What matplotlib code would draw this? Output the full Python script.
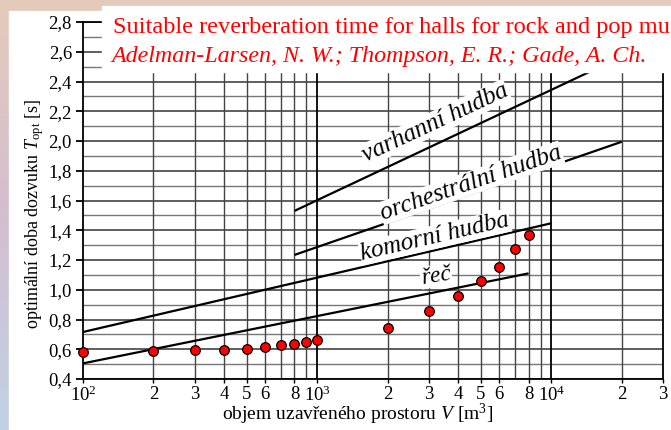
import numpy as np
import matplotlib
matplotlib.use("Agg")
import matplotlib.pyplot as plt
from matplotlib.patches import Rectangle
from matplotlib.ticker import FixedLocator, FixedFormatter, NullFormatter

plt.rcParams['font.family'] = ['Liberation Serif', 'DejaVu Serif']
plt.rcParams['mathtext.fontset'] = 'custom'
plt.rcParams['mathtext.rm'] = 'Liberation Serif'
plt.rcParams['mathtext.it'] = 'Liberation Serif:italic'

# ---- data ----
volumes = [100, 200, 300, 400, 500, 600, 700, 800, 900, 1000,
           2000, 3000, 4000, 5000, 6000, 7000, 8000]
t_measured = [0.58, 0.585, 0.592, 0.595, 0.602, 0.615, 0.629, 0.635, 0.647, 0.66,
              0.745, 0.857, 0.956, 1.059, 1.151, 1.272, 1.368]

line_names = ["varhanní hudba", "orchestrální hudba", "komorní hudba", "řeč"]
line_v_start = [800, 800, 100, 100]
line_v_end = [20000, 20000, 10000, 8000]
line_t_start = [1.53, 1.234, 0.716, 0.505]
line_t_end = [2.567, 1.995, 1.447, 1.11]

x_tick_values = [100, 200, 300, 400, 500, 600, 800, 1000,
                 2000, 3000, 4000, 5000, 6000, 8000, 10000, 20000, 30000]
x_tick_labels = [r"$10^2$", "2", "3", "4", "5", "6", "8", r"$10^3$",
                 "2", "3", "4", "5", "6", "8", r"$10^4$", "2", "3"]
y_tick_values = [0.4, 0.6, 0.8, 1.0, 1.2, 1.4, 1.6, 1.8, 2.0, 2.2, 2.4, 2.6, 2.8]
y_tick_labels = ["0,4", "0,6", "0,8", "1,0", "1,2", "1,4", "1,6", "1,8",
                 "2,0", "2,2", "2,4", "2,6", "2,8"]

title1 = "Suitable reverberation time for halls for rock and pop music"
title2 = "Adelman-Larsen, N. W.; Thompson, E. R.; Gade, A. Ch."

W, H = 671, 430
fig = plt.figure(figsize=(W / 100, H / 100), dpi=100)

# background gradient frame
bg = fig.add_axes([0, 0, 1, 1], zorder=-10)
top = np.array([228, 203, 186]) / 255
mid = np.array([212, 190, 208]) / 255
bot = np.array([192, 210, 228]) / 255
n = 200
grad = np.zeros((n, 2, 3))
for i in range(n):
    f = i / (n - 1)
    if f < 0.5:
        c = top * (1 - 2 * f) + mid * (2 * f)
    else:
        c = mid * (2 - 2 * f) + bot * (2 * f - 1)
    grad[i, :, :] = c
bg.imshow(grad, aspect='auto', extent=[0, 1, 0, 1], origin='upper')
bg.add_patch(Rectangle((9 / W, 0), 1, 1 - 11 / H, color='white', zorder=2))
bg.set_xlim(0, 1)
bg.set_ylim(0, 1)
bg.axis('off')

ax = fig.add_axes([83 / W, 1 - 379 / H, (663 - 83) / W, (379 - 22) / H])
ax.set_xscale('log')
ax.set_xlim(100, 30000)
ax.set_ylim(0.4, 2.8)

# grid
minor_y = np.round(np.arange(0.5, 2.8, 0.2), 2)
for yv in minor_y:
    ax.axhline(yv, color='#777777', lw=1.0, zorder=1)
for yv in y_tick_values:
    ax.axhline(yv, color='#333333', lw=1.1, zorder=1)
x_grid = [v * 10 ** k for k in (2, 3) for v in range(2, 10)] + [20000]
for xv in x_grid:
    ax.axvline(xv, color='#444444', lw=1.0, zorder=1)
for xv in [1000, 10000]:
    ax.axvline(xv, color='black', lw=1.3, zorder=1)

for s in ax.spines.values():
    s.set_color('black')
    s.set_linewidth(1.3)

ax.xaxis.set_major_locator(FixedLocator(x_tick_values))
ax.xaxis.set_major_formatter(FixedFormatter(x_tick_labels))
ax.xaxis.set_minor_locator(FixedLocator([]))
ax.xaxis.set_minor_formatter(NullFormatter())
ax.set_yticks(y_tick_values)
ax.set_yticklabels(y_tick_labels)
ax.tick_params(axis='both', direction='out', labelsize=13.5, colors='black')
ax.tick_params(axis='x', length=3, width=1, pad=2)
ax.tick_params(axis='y', length=5, width=1.3, pad=3)

# lines
for v0, v1, t0, t1 in zip(line_v_start, line_v_end, line_t_start, line_t_end):
    ax.plot([v0, v1], [t0, t1], color='black', lw=1.6, zorder=3, solid_capstyle='butt')

# points
ax.scatter(volumes, t_measured, s=48, facecolor='#ff0000', edgecolor='black',
           linewidth=0.9, zorder=5, clip_on=False)

# line labels
label_pos = [(435, 123), (471, 183), (435, 237), (436, 276)]
label_rot = [25, 19, 13, 9]
label_size = [18, 18, 18, 17]
for name, (px, py), rot, fs in zip(line_names, label_pos, label_rot, label_size):
    fig.text(px / W, 1 - py / H, name, rotation=rot, rotation_mode='anchor',
             ha='center', va='center', fontsize=fs, style='italic', zorder=4,
             bbox=dict(facecolor='white', edgecolor='none', pad=0.5))

# title box
fig.patches.append(Rectangle((102 / W, 1 - 72 / H), 1, (72 - 6) / H,
                             transform=fig.transFigure, color='white', zorder=5))
fig.text(113 / W, 1 - 33 / H, title1, color='#ff0000', fontsize=17.6,
         va='baseline', ha='left', zorder=6)
fig.text(111 / W, 1 - 62 / H, title2, color='#ff0000', fontsize=17.3,
         style='italic', va='baseline', ha='left', zorder=6)

# axis labels
fig.text(358 / W, 1 - 414 / H, r"objem uzavřeného prostoru $\mathit{V}$ [m$^3$]",
         ha='center', va='center', fontsize=14)
fig.text(35 / W, 1 - 214 / H, r"optimální doba dozvuku $\mathit{T}_{\mathrm{opt}}$ [s]",
         ha='center', va='center', rotation=90, fontsize=13)

fig.savefig("out.png", dpi=100)
